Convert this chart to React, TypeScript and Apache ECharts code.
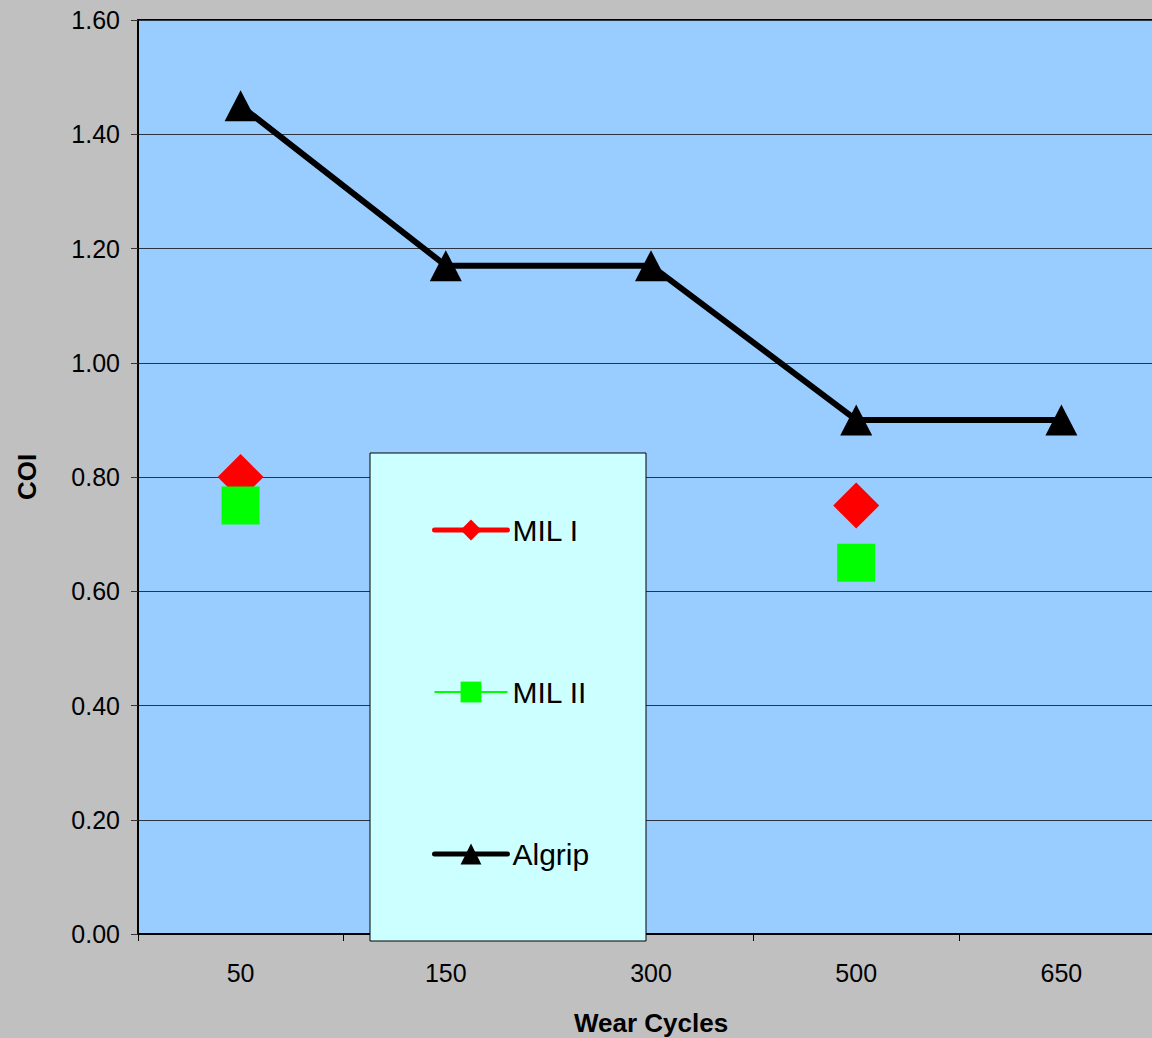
import React, { useEffect, useRef } from "react";
import * as echarts from "echarts";

const categories = ["50", "150", "300", "500", "650"];
const milI = [0.8, null, null, 0.75, null];
const milII = [0.75, null, null, 0.65, null];
const algrip = [1.45, 1.17, 1.17, 0.9, 0.9];
const yTicks = { min: 0, max: 1.6, interval: 0.2 };

export default function App() {
  const ref = useRef<HTMLDivElement>(null);
  useEffect(() => {
    const chart = echarts.init(ref.current!, null, { renderer: "svg" });
    const font = "Arial, 'Liberation Sans', sans-serif";
    chart.setOption({
      animation: false,
      backgroundColor: "#c0c0c0",
      grid: {
        left: 138,
        top: 20,
        width: 1026,
        bottom: 104,
        outerBoundsMode: "none",
        containLabel: false,
        show: true,
        backgroundColor: "#99ccff",
        borderColor: "#000",
        borderWidth: 2,
      },
      xAxis: {
        type: "category",
        data: categories,
        boundaryGap: true,
        name: "Wear Cycles",
        nameLocation: "middle",
        nameGap: 76,
        nameTextStyle: { fontFamily: font, fontSize: 26, fontWeight: "bold", color: "#000" },
        axisLine: { lineStyle: { color: "#000", width: 2 } },
        axisTick: { show: true, length: 7, inside: false, lineStyle: { color: "#000", width: 1 } },
        axisLabel: { fontFamily: font, fontSize: 25, color: "#000", margin: 26 },
        splitLine: { show: false },
      },
      yAxis: {
        type: "value",
        min: yTicks.min,
        max: yTicks.max,
        interval: yTicks.interval,
        name: "COI",
        nameLocation: "middle",
        nameGap: 98,
        nameRotate: 90,
        nameTextStyle: { fontFamily: font, fontSize: 26, fontWeight: "bold", color: "#000" },
        axisLine: { show: true, lineStyle: { color: "#000", width: 2 } },
        axisTick: { show: true, length: 7, lineStyle: { color: "#333", width: 1 } },
        axisLabel: {
          fontFamily: font,
          fontSize: 25,
          color: "#000",
          margin: 18,
          formatter: (v: number) => v.toFixed(2),
        },
        splitLine: { show: true, lineStyle: { color: "#2b3440", width: 1 } },
      },
      legend: {
        orient: "vertical",
        left: 432,
        top: 515,
        padding: 0,
        itemWidth: 73,
        itemHeight: 26,
        itemGap: 132,
        z: 200,
        textStyle: { fontFamily: font, fontSize: 30, color: "#000" },
        data: [
          { name: "MIL I", lineStyle: { width: 5 } },
          { name: "MIL II", lineStyle: { width: 2 } },
          { name: "Algrip", lineStyle: { width: 5 } },
        ],
      },
      graphic: [
        {
          type: "rect",
          z: 100,
          shape: { x: 370, y: 453, width: 276, height: 488 },
          style: { fill: "#ccffff", stroke: "#000", lineWidth: 1 },
        },
      ],
      series: [
        {
          name: "MIL I",
          type: "line",
          data: milI,
          symbol: "diamond",
          symbolSize: 46,
          connectNulls: false,
          itemStyle: { color: "#ff0000" },
          lineStyle: { color: "#ff0000", width: 5, cap: "round" },
          z: 3,
        },
        {
          name: "MIL II",
          type: "line",
          data: milII,
          symbol: "rect",
          symbolSize: 38,
          connectNulls: false,
          itemStyle: { color: "#00ff00" },
          lineStyle: { color: "#00ff00", width: 2 },
          z: 4,
        },
        {
          name: "Algrip",
          type: "line",
          data: algrip,
          symbol: "triangle",
          symbolSize: [32, 31],
          itemStyle: { color: "#000" },
          lineStyle: { color: "#000", width: 6, cap: "round" },
          z: 5,
        },
      ],
    });
    return () => chart.dispose();
  }, []);
  return (
    <div
      ref={ref}
      style={{ position: "fixed", left: 0, top: 0, width: 1152, height: 1038 }}
    />
  );
}
